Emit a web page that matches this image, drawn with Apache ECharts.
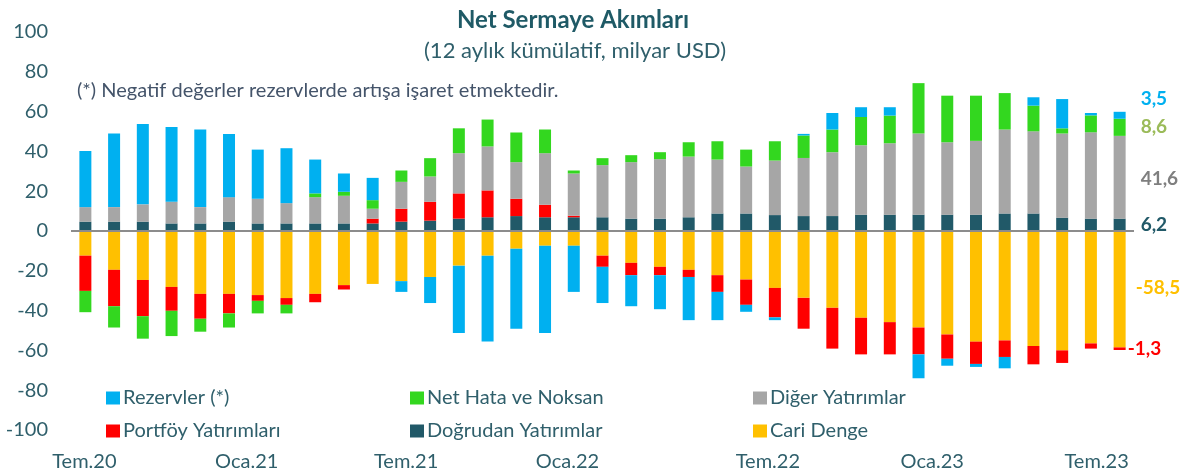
<!DOCTYPE html>
<html>
<head>
<meta charset="utf-8">
<script src="https://cdn.jsdelivr.net/npm/echarts@6/dist/echarts.min.js"></script>
<style>
html, body { margin: 0; padding: 0; background: #fff; }
#chart { width: 1190px; height: 472px; }
</style>
</head>
<body>
<div id="chart"></div>
<script>
// aylar (12 aylik kumulatif), Tem.20 - Tem.23
var months = ['Tem.20','Ağu.20','Eyl.20','Eki.20','Kas.20','Ara.20',
    'Oca.21','Şub.21','Mar.21','Nis.21','May.21','Haz.21',
    'Tem.21','Ağu.21','Eyl.21','Eki.21','Kas.21','Ara.21',
    'Oca.22','Şub.22','Mar.22','Nis.22','May.22','Haz.22',
    'Tem.22','Ağu.22','Eyl.22','Eki.22','Kas.22','Ara.22',
    'Oca.23','Şub.23','Mar.23','Nis.23','May.23','Haz.23','Tem.23'];

var cariDenge = [-12.4,-19.5,-24.6,-28.1,-31.6,-31.6,-32.2,-33.7,-31.6,-27.2,-26.6,-25.2,
    -23.1,-17.4,-12.4,-8.9,-7.4,-7.4,-12.4,-16.0,-18.0,-19.5,-22.2,-24.4,
    -28.6,-33.6,-38.6,-43.6,-45.8,-48.5,-52.0,-55.6,-55.0,-57.8,-60.0,-56.5,-58.5];

var dogrudan = [4.7,4.7,4.7,3.8,3.8,4.7,3.8,3.8,3.8,3.8,3.8,4.7,
    5.2,6.2,6.9,7.5,6.9,6.9,6.9,6.2,6.2,6.9,8.8,8.8,
    8.0,7.5,7.5,8.2,8.2,8.2,8.2,8.2,8.8,8.8,6.7,6.2,6.2];

var portfoy = [-17.7,-18.3,-18.2,-12.0,-12.5,-9.8,-2.9,-3.4,-4.2,-2.2,2.4,6.5,
    9.5,12.7,13.5,8.7,6.3,0.8,-5.6,-6.2,-4.2,-3.6,-8.4,-12.7,
    -14.8,-15.5,-20.5,-18.4,-16.2,-13.5,-12.2,-11.2,-8.3,-9.2,-6.3,-2.6,-1.3];

var diger = [7.3,7.3,8.7,10.9,8.2,12.3,12.4,10.2,13.2,13.9,5.0,13.5,
    12.7,20.2,22.1,18.4,25.9,21.2,26.2,28.4,29.9,30.5,27.1,23.6,
    27.4,29.2,32.1,34.9,35.9,40.8,36.4,37.1,42.2,41.3,42.3,43.4,41.6];

var netHata = [-10.7,-10.7,-11.3,-12.7,-6.5,-7.1,-6.3,-4.3,1.9,2.0,4.3,5.7,
    9.2,12.5,13.5,14.9,11.9,1.5,3.5,3.5,3.5,7.2,9.2,8.5,
    9.7,11.3,11.4,14.2,13.9,25.3,23.4,22.7,18.3,12.9,2.6,8.5,8.6];

var rezervler = [28.2,37.0,40.4,37.6,39.0,31.8,24.7,27.6,17.0,9.2,11.2,-5.4,
    -13.1,-33.9,-43.1,-40.2,-43.9,-23.2,-18.2,-15.6,-17.1,-21.7,-14.2,-3.5,
    -1.4,0.8,8.3,4.9,4.2,-12.0,-3.5,-1.5,-5.7,4.2,14.7,1.2,3.5];

var axisColor = '#2f5f6b';
var font = 'Lato';

/**
 * son cubugun yanindaki degerler
 */
function buildData(values, lab) {
    return values.map(function (v, i) {
        if (i !== values.length - 1) return v;
        return {
            value: v,
            label: {
                show: true,
                position: 'right',
                distance: lab.distance,
                offset: lab.offset,
                color: lab.color,
                fontFamily: font,
                fontSize: 19,
                fontWeight: 'bold',
                formatter: function (p) { return String(p.value).replace('.', ','); }
            }
        };
    });
}

// cizim sirasi: sifira en yakin olan once
var seriesDefs = [
    {name: 'Cari Denge', data: cariDenge, color: '#ffc000', lab: {color: '#ffc000', distance: 10, offset: [0, -1]}},
    {name: 'Doğrudan Yatırımlar', data: dogrudan, color: '#215968', lab: {color: '#215968', distance: 15, offset: [0, 0]}},
    {name: 'Portföy Yatırımları', data: portfoy, color: '#ff0000', lab: {color: '#ff0000', distance: 2, offset: [0, 0]}},
    {name: 'Diğer Yatırımlar', data: diger, color: '#a6a6a6', lab: {color: '#7f7f7f', distance: 15, offset: [0, 2]}},
    {name: 'Net Hata ve Noksan', data: netHata, color: '#33d71f', lab: {color: '#9bbb59', distance: 15, offset: [0, 0]}},
    {name: 'Rezervler (*)', data: rezervler, color: '#00b0f0', lab: {color: '#00b0f0', distance: 15, offset: [0, -16]}}
];

var series = seriesDefs.map(function (s) {
    return {
        name: s.name,
        type: 'bar',
        stack: 'toplam',
        barWidth: 12,
        itemStyle: {color: s.color},
        emphasis: {disabled: true},
        data: buildData(s.data, s.lab)
    };
});

// sifir cizgisi
series[0].markLine = {
    silent: true,
    symbol: 'none',
    label: {show: false},
    lineStyle: {color: '#8c8c8c', width: 2, type: 'solid'},
    data: [{yAxis: 0}]
};

// lejant: 2 satir, 3 sutun
var legendSpots = [
    ['Rezervler (*)', 106, 388], ['Net Hata ve Noksan', 410, 388], ['Diğer Yatırımlar', 753, 388],
    ['Portföy Yatırımları', 106, 421], ['Doğrudan Yatırımlar', 410, 421], ['Cari Denge', 753, 421]
];
var legends = legendSpots.map(function (l) {
    return {
        data: [l[0]],
        left: l[1],
        top: l[2],
        padding: 0,
        icon: 'rect',
        itemWidth: 14,
        itemHeight: 13,
        selectedMode: false,
        textStyle: {fontFamily: font, fontSize: 20, color: axisColor, padding: [0, 0, 0, -2]}
    };
});

// x etiketleri orijinalde tam ortalanmamis
var labelShift = {'Tem.20': 1, 'Oca.21': 11, 'Tem.21': 24, 'Oca.22': 35, 'Tem.22': 7, 'Oca.23': 15, 'Tem.23': 23};
var rich = {};
Object.keys(labelShift).forEach(function (k, i) {
    rich['s' + i] = {fontFamily: font, fontSize: 20, color: axisColor, padding: [0, labelShift[k] * 2, 0, 0]};
});

var option = {
    animation: false,
    textStyle: {fontFamily: font},
    title: [
        {text: 'Net Sermaye Akımları', left: 573, top: 8, padding: 0, textAlign: 'center',
            textStyle: {fontFamily: font, fontSize: 24, fontWeight: 'bold', color: '#1f5a66'}},
        {text: '(12 aylık kümülatif, milyar USD)', left: 575, top: 40, padding: 0, textAlign: 'center',
            textStyle: {fontFamily: font, fontSize: 22, fontWeight: 'normal', color: '#2f5f6b'}},
        {text: '(*) Negatif değerler rezervlerde artışa işaret etmektedir.', left: 77, top: 81, padding: 0,
            textStyle: {fontFamily: font, fontSize: 20, fontWeight: 'normal', color: '#44546a'}}
    ],
    legend: legends,
    grid: {left: 71, right: 56, top: 32, bottom: 42},
    xAxis: {
        type: 'category',
        data: months,
        axisLine: {show: false, onZero: false},
        axisTick: {show: false},
        axisLabel: {
            interval: 5,
            margin: 22,
            fontFamily: font,
            fontSize: 20,
            color: axisColor,
            formatter: function (v) {
                var keys = Object.keys(labelShift);
                var i = keys.indexOf(v);
                return i < 0 ? v : '{s' + i + '|' + v + '}';
            },
            rich: rich
        }
    },
    yAxis: {
        type: 'value',
        min: -100,
        max: 100,
        interval: 20,
        axisLine: {show: false},
        axisTick: {show: false},
        splitLine: {show: false},
        axisLabel: {margin: 23, fontFamily: font, fontSize: 20, color: axisColor}
    },
    series: series
};

var chart = echarts.init(document.getElementById('chart'));
chart.setOption(option);
</script>
</body>
</html>
